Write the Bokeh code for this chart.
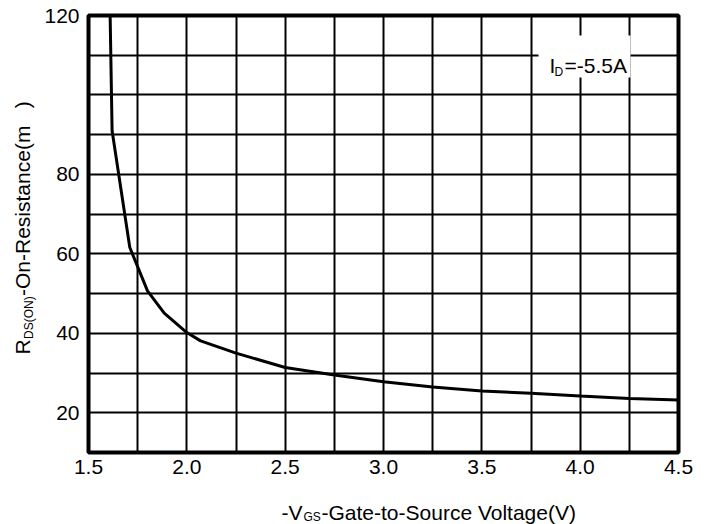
import math
from bokeh.plotting import figure
from bokeh.layouts import row, column
from bokeh.models import FixedTicker, PrintfTickFormatter, Label, BoxAnnotation, Range1d
from bokeh.embed import file_html
from bokeh.resources import INLINE

# Data
vgs = [1.61, 1.62, 1.71, 1.80, 1.885, 2.0, 2.07, 2.25, 2.5, 2.75, 3.0, 3.25, 3.5, 3.75, 4.0, 4.25, 4.5]
rds = [120, 91, 61.6, 50.7, 45.1, 40.2, 38.1, 35.0, 31.4, 29.5, 27.8, 26.5, 25.5, 24.9, 24.2, 23.6, 23.2]

x_ticks = [1.5, 2.0, 2.5, 3.0, 3.5, 4.0, 4.5]
y_ticks = [20, 40, 60, 80, 120]
x_grid = [1.5 + 0.25 * i for i in range(13)]
y_grid = [10 + 10 * i for i in range(12)]

FONT = "Liberation Sans"
LEFT_W = 40
BOTTOM_H = 32
FRAME_L = 88
FRAME_B = 452

p = figure(width=708 - LEFT_W, height=524 - BOTTOM_H, x_range=(1.5, 4.5), y_range=(10, 120),
           output_backend="svg", toolbar_location=None,
           min_border_left=FRAME_L - LEFT_W, min_border_right=30, min_border_top=15,
           min_border_bottom=(524 - BOTTOM_H) - FRAME_B)
p.background_fill_color = "white"
p.border_fill_color = "white"
p.outline_line_color = "black"
p.outline_line_width = 4

p.xaxis.ticker = FixedTicker(ticks=x_ticks)
p.yaxis.ticker = FixedTicker(ticks=y_ticks)
p.xaxis.formatter = PrintfTickFormatter(format="%.1f")
p.yaxis.formatter = PrintfTickFormatter(format="%d")
for ax in (p.xaxis, p.yaxis):
    ax.axis_line_color = None
    ax.major_tick_line_color = None
    ax.minor_tick_line_color = None
    ax.major_tick_out = 0
    ax.major_tick_in = 0
    ax.minor_tick_out = 0
    ax.minor_tick_in = 0
    ax.major_label_text_font = FONT
    ax.major_label_text_font_size = "21px"
    ax.major_label_text_color = "black"
p.xaxis.major_label_standoff = 7
p.yaxis.major_label_standoff = 9

p.xgrid.ticker = FixedTicker(ticks=x_grid)
p.ygrid.ticker = FixedTicker(ticks=y_grid)
for g in (p.xgrid, p.ygrid):
    g.grid_line_color = "black"
    g.grid_line_width = 2
    g.grid_line_alpha = 1

p.line(vgs, rds, line_color="black", line_width=3)


def lab(fig, x, y, text, size, angle=0, baseline="alphabetic"):
    fig.add_layout(Label(x=x, y=y, x_units="screen", y_units="screen", text=text,
                         text_font=FONT, text_font_size=size, text_color="black",
                         text_align="left", text_baseline=baseline, angle=angle))


# Legend box (positions relative to the plot frame)
p.add_layout(BoxAnnotation(left=538 - FRAME_L, right=630 - FRAME_L,
                           top=FRAME_B - 35, bottom=FRAME_B - 77,
                           left_units="screen", right_units="screen",
                           top_units="screen", bottom_units="screen",
                           fill_color="white", fill_alpha=1, line_color=None))
lab(p, 549 - FRAME_L, FRAME_B - 65, "I", "21px")
lab(p, 554 - FRAME_L, FRAME_B - 71, "D", "12px", baseline="middle")
lab(p, 564 - FRAME_L, FRAME_B - 65, "=-5.5A", "21px")


def blank(w, h):
    f = figure(width=w, height=h, x_range=Range1d(0, w), y_range=Range1d(0, h),
               output_backend="svg", toolbar_location=None, min_border=0,
               x_axis_location=None, y_axis_location=None)
    f.xgrid.visible = False
    f.ygrid.visible = False
    f.outline_line_color = None
    f.background_fill_color = "white"
    f.border_fill_color = "white"
    return f


# Y-axis title (rotated)
yf = blank(LEFT_W, 524)
a = math.pi / 2
lab(yf, 22, 170, "R", "21px", angle=a)
lab(yf, 28, 185.5, "DS(ON)", "12px", angle=a, baseline="middle")
lab(yf, 22, 228.5, "-On-Resistance(m\u00a0\u00a0\u00a0)", "21px", angle=a)

# X-axis title
xf = blank(708 - LEFT_W, BOTTOM_H)
lab(xf, 233 - LEFT_W, 12, "-V", "21px")
lab(xf, 255 - LEFT_W, 8, "GS", "12px", baseline="middle")
lab(xf, 273 - LEFT_W, 12, "-Gate-to-Source Voltage(V)", "21px")

layout = row(yf, column(p, xf, spacing=0), spacing=0)
open("out.html", "w").write(file_html(layout, INLINE))
